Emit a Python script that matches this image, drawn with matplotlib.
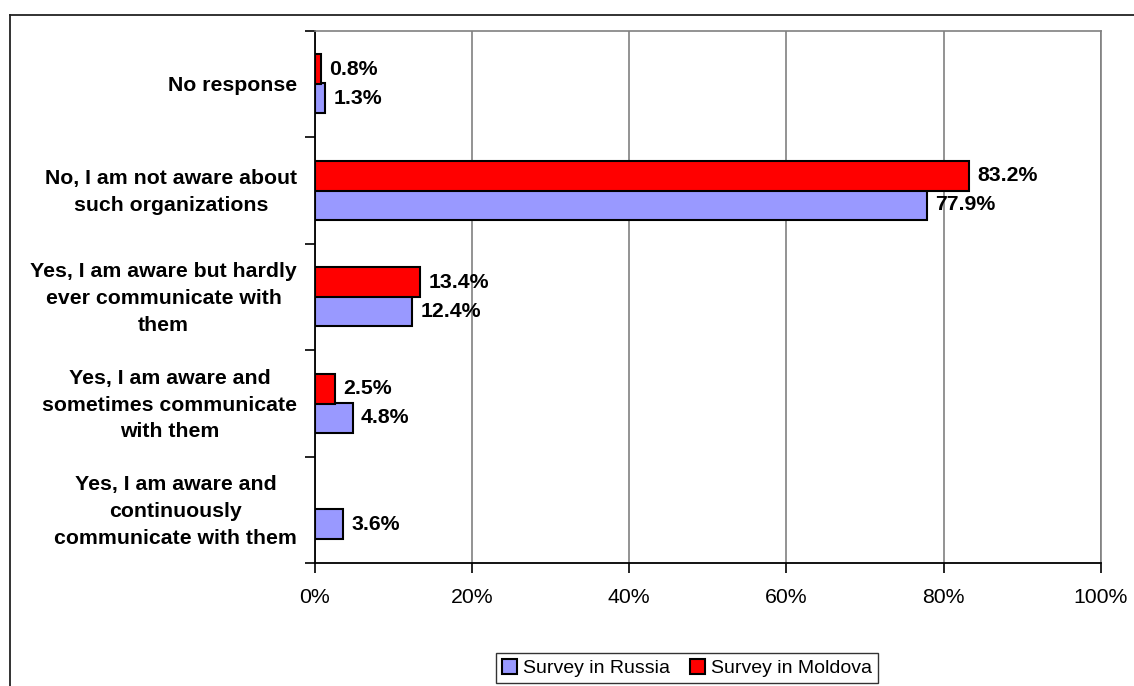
import matplotlib
matplotlib.use("Agg")
import matplotlib.pyplot as plt
import matplotlib.transforms as mtransforms
import numpy as np
from matplotlib.lines import Line2D
from matplotlib.patches import Patch

plt.rcParams['font.family'] = ['Liberation Sans', 'DejaVu Sans']

categories = [
    "No response",
    "No, I am not aware about\nsuch organizations",
    "Yes, I am aware but hardly\never communicate with\nthem",
    "Yes, I am aware and\nsometimes communicate\nwith them",
    "Yes, I am aware and\ncontinuously\ncommunicate with them",
]
russia = [1.3, 77.9, 12.4, 4.8, 3.6]
moldova = [0.8, 83.2, 13.4, 2.5, None]
series_names = ["Survey in Russia", "Survey in Moldova"]
x_ticks = [0, 20, 40, 60, 80, 100]
x_tick_labels = ["0%", "20%", "40%", "60%", "80%", "100%"]

col_r = "#9999FF"
col_m = "#FF0000"
FS = 15.3

W, H = 1134, 686
fig = plt.figure(figsize=(W / 100, H / 100), dpi=100)
ax = fig.add_axes([315 / W, 1 - 563 / H, (1100.7 - 315) / W, (563 - 30.5) / H])

n = len(categories)
ypos = np.arange(n)[::-1].astype(float)
bh = 0.28
off = 0.135

for y, v in zip(ypos, russia):
    if v is not None:
        ax.barh(y - off, v, height=bh, color=col_r, edgecolor="black", linewidth=1.5, zorder=3)
        ax.annotate(f"{v:.1f}%", (v, y - off), xytext=(6, 0), textcoords="offset points",
                    va="center", ha="left", fontsize=FS, fontweight="bold", zorder=4)
for y, v in zip(ypos, moldova):
    if v is not None:
        ax.barh(y + off, v, height=bh, color=col_m, edgecolor="black", linewidth=1.5, zorder=3)
        ax.annotate(f"{v:.1f}%", (v, y + off), xytext=(6, 0), textcoords="offset points",
                    va="center", ha="left", fontsize=FS, fontweight="bold", zorder=4)

ax.set_xlim(0, 100)
ax.set_ylim(-0.5, n - 0.5)
ax.set_xticks(x_ticks)
ax.set_xticklabels(x_tick_labels, fontsize=FS)
ax.tick_params(axis="x", direction="out", length=7, width=1.2, pad=11, color="black")

ax.set_yticks(np.arange(-0.5, n, 1.0))
ax.set_yticklabels([])
ax.tick_params(axis="y", which="major", direction="out", length=7, width=1.2, color="black")
ax.set_yticks(ypos, minor=True)
ax.set_yticklabels(categories, minor=True, fontsize=FS, fontweight="bold",
                   multialignment="center", linespacing=1.52)
ax.tick_params(axis="y", which="minor", length=0, pad=13)
shift = mtransforms.ScaledTranslation(0, 4 / 100, fig.dpi_scale_trans)
for lab in ax.get_yticklabels(minor=True):
    if "\n" in lab.get_text():
        lab.set_transform(lab.get_transform() + shift)

ax.xaxis.grid(True, color="#808080", linewidth=1.2, zorder=0)
ax.set_axisbelow(True)
for s in ["left", "bottom"]:
    ax.spines[s].set_color("black")
    ax.spines[s].set_linewidth(1.3)
for s in ["top", "right"]:
    ax.spines[s].set_color("#808080")
    ax.spines[s].set_linewidth(1.2)

# outer chart border
fig.add_artist(Line2D([10 / W, 10 / W], [0, 1 - 14.5 / H], transform=fig.transFigure,
                      color="#222222", linewidth=1.3))
fig.add_artist(Line2D([10 / W, 1], [1 - 14.5 / H, 1 - 14.5 / H], transform=fig.transFigure,
                      color="#222222", linewidth=1.3))

handles = [Patch(facecolor=col_r, edgecolor="black", linewidth=1.5),
           Patch(facecolor=col_m, edgecolor="black", linewidth=1.5)]
leg = fig.legend(handles, series_names, loc="center", bbox_to_anchor=(687 / W, 1 - 668 / H),
                 ncol=2, fontsize=14, frameon=True, fancybox=False, edgecolor="black",
                 handlelength=0.8, handleheight=0.8, handletextpad=0.3, columnspacing=1.0,
                 borderpad=0.3, borderaxespad=0)
leg.get_frame().set_linewidth(1.0)

fig.savefig("out.png", dpi=100)
